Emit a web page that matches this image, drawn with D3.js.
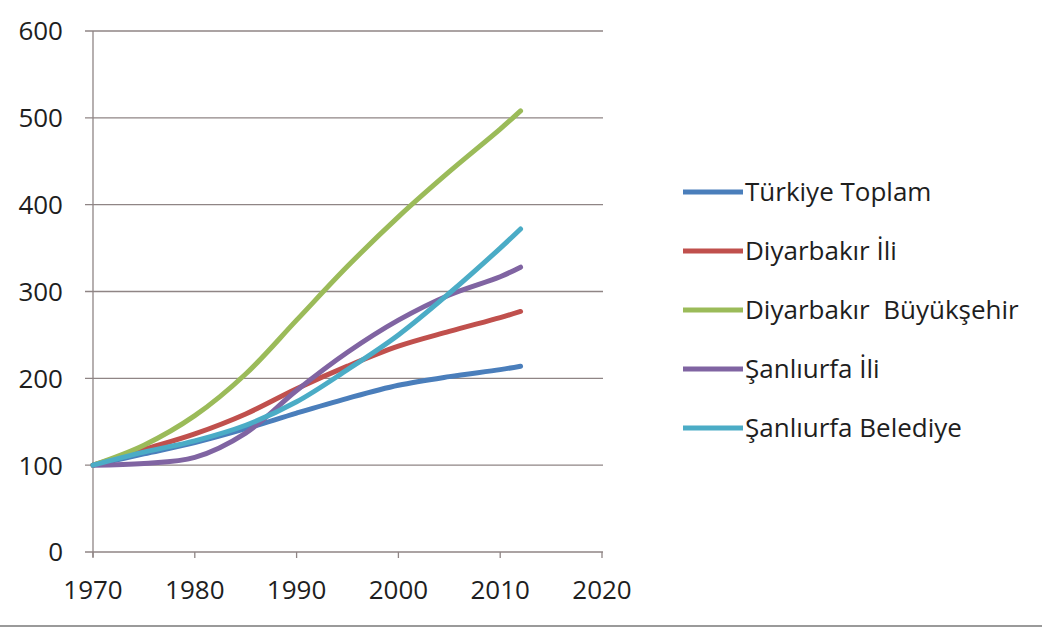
<!DOCTYPE html>
<html><head><meta charset="utf-8">
<script src="https://cdn.jsdelivr.net/npm/d3@7"></script>
<style>
html,body{margin:0;padding:0;background:#fff;}
svg{display:block;font-family:"Open Sans",Lato,sans-serif;}
</style></head><body>
<svg id="chart" width="1042" height="629"></svg>
<script>
const years = [1970,1975,1980,1985,1990,1995,2000,2005,2010,2012];
const seriesNames = ["Türkiye Toplam","Diyarbakır İli","Diyarbakır  Büyükşehir","Şanlıurfa İli","Şanlıurfa Belediye"];
const turkiyeToplam = [100,113,126,142,160,177,192,202,210,214];
const diyarbakirIli = [100,118,136,159,188,214,237,254,270,277];
const diyarbakirBuyuksehir = [100,123,157,205,267,329,386,438,487,508];
const sanliurfaIli = [100,102,109,137,186,230,267,296,317,328];
const sanliurfaBelediye = [100,115,128,146,173,210,250,298,350,372];
const xTicks = [1970,1980,1990,2000,2010,2020];
const yTicks = [0,100,200,300,400,500,600];
const colors = ["#4A7EBB","#C0504D","#9BBB59","#8064A2","#4BACC6"];

const seriesValues = [turkiyeToplam,diyarbakirIli,diyarbakirBuyuksehir,sanliurfaIli,sanliurfaBelediye];
const svg = d3.select("#chart");
const x = d3.scaleLinear().domain([1970,2020]).range([93,602]);
const y = d3.scaleLinear().domain([0,600]).range([552,31]);

// gridlines
svg.append("g").selectAll("line").data(yTicks).join("line")
  .attr("x1",85).attr("x2",603)
  .attr("y1",d=>y(d)).attr("y2",d=>y(d))
  .attr("stroke","#8f8585").attr("stroke-width",1.3);

// y axis line
svg.append("line").attr("x1",x(1970)).attr("x2",x(1970)).attr("y1",y(600)).attr("y2",y(0)+5)
  .attr("stroke","#8f8585").attr("stroke-width",1.3);

// x tick marks
svg.append("g").selectAll("line").data(xTicks).join("line")
  .attr("x1",d=>x(d)).attr("x2",d=>x(d)).attr("y1",y(0)).attr("y2",y(0)+6)
  .attr("stroke","#8f8585").attr("stroke-width",1.3);

// y labels
svg.append("g").selectAll("text").data(yTicks).join("text")
  .attr("x",63).attr("y",d=>y(d)).attr("dy","0.36em")
  .attr("text-anchor","end").attr("font-size",26).attr("fill","#1e1e1e")
  .text(d=>d);

// x labels
svg.append("g").selectAll("text").data(xTicks).join("text")
  .attr("x",d=>x(d)).attr("y",599)
  .attr("text-anchor","middle").attr("font-size",26).attr("fill","#1e1e1e")
  .text(d=>d);

// lines
const line = d3.line().x(d=>x(d[0])).y(d=>y(d[1])).curve(d3.curveCatmullRom.alpha(0.5));
svg.append("g").selectAll("path").data(seriesValues).join("path")
  .attr("d",vals=>line(years.map((yr,i)=>[yr,vals[i]])))
  .attr("fill","none").attr("stroke",(d,i)=>colors[i])
  .attr("stroke-width",5).attr("stroke-linecap","round").attr("stroke-linejoin","round");

// legend
const lg = svg.append("g").selectAll("g").data(seriesNames).join("g")
  .attr("transform",(d,i)=>`translate(683,${192+i*59})`);
lg.append("line").attr("x1",0).attr("x2",60).attr("y1",0).attr("y2",0)
  .attr("stroke",(d,i)=>colors[i]).attr("stroke-width",5);
lg.append("text").attr("x",62).attr("y",0).attr("dy","0.36em")
  .attr("font-size",26).attr("fill","#1e1e1e")
  .style("white-space","pre").text(d=>d);

// bottom border
svg.append("line").attr("x1",0).attr("x2",1042).attr("y1",626).attr("y2",626)
  .attr("stroke","#9a9a9a").attr("stroke-width",2);
</script>
</body></html>
